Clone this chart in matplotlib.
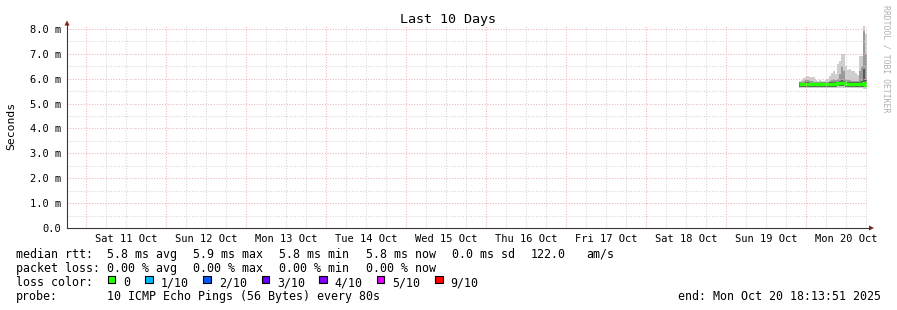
import matplotlib
matplotlib.use("Agg")
import numpy as np
import pandas as pd
import matplotlib.pyplot as plt
from matplotlib.patches import Polygon, Rectangle
from matplotlib.lines import Line2D

# ---------------- data ----------------
end_time = pd.Timestamp("2025-10-20 18:13:51")
start_time = end_time - pd.Timedelta(days=10)
data_start = pd.Timestamp("2025-10-19 21:50:00")
data_step = "36min"

rtt_max = [5.92, 5.95, 6.02, 6.05, 6.10, 6.08, 6.08, 6.05, 5.95, 5.92,
           5.95, 5.90, 5.92, 5.95, 6.00, 6.10, 6.25, 6.30, 6.20, 6.60,
           6.70, 7.00, 7.00, 6.50, 6.35, 6.40, 6.30, 6.30, 6.25, 6.15,
           6.90, 6.90, 8.10, 7.80]
rtt_p9 = [5.88, 5.88, 5.90, 5.95, 5.95, 5.90, 5.90, 5.88, 5.87, 5.87,
          5.87, 5.86, 5.87, 5.88, 5.88, 5.90, 5.95, 5.98, 5.95, 6.00,
          6.20, 6.50, 6.30, 6.00, 5.95, 5.95, 5.92, 5.92, 5.90, 5.90,
          6.30, 6.50, 7.90, 7.00]
rtt_p7 = [5.84, 5.84, 5.84, 5.85, 5.85, 5.84, 5.84, 5.84, 5.83, 5.83,
          5.83, 5.83, 5.83, 5.84, 5.84, 5.85, 5.86, 5.87, 5.87, 5.88,
          5.90, 5.93, 5.92, 5.88, 5.86, 5.86, 5.86, 5.85, 5.85, 5.85,
          5.88, 5.90, 6.40, 5.95]
rtt_p2 = [5.67, 5.67, 5.67, 5.67, 5.67, 5.67, 5.67, 5.67, 5.67, 5.67,
          5.67, 5.67, 5.67, 5.67, 5.67, 5.68, 5.68, 5.68, 5.68, 5.69,
          5.69, 5.69, 5.69, 5.68, 5.68, 5.68, 5.68, 5.68, 5.67, 5.67,
          5.67, 5.67, 5.65, 5.65]
rtt_min = [5.64, 5.64, 5.64, 5.64, 5.64, 5.64, 5.64, 5.64, 5.64, 5.64,
           5.64, 5.64, 5.64, 5.64, 5.64, 5.64, 5.64, 5.64, 5.64, 5.64,
           5.64, 5.64, 5.64, 5.64, 5.64, 5.64, 5.64, 5.64, 5.64, 5.64,
           5.63, 5.63, 5.60, 5.60]
rtt_median = [5.78, 5.78, 5.78, 5.78, 5.78, 5.78, 5.78, 5.77, 5.77, 5.77,
              5.77, 5.77, 5.77, 5.78, 5.78, 5.78, 5.79, 5.80, 5.80, 5.82,
              5.83, 5.84, 5.83, 5.80, 5.79, 5.79, 5.79, 5.78, 5.78, 5.78,
              5.79, 5.80, 5.82, 5.76]

y_ticks = [0, 1, 2, 3, 4, 5, 6, 7, 8]
y_tick_labels = ["0.0", "1.0 m", "2.0 m", "3.0 m", "4.0 m", "5.0 m",
                 "6.0 m", "7.0 m", "8.0 m"]

title = "Last 10 Days"
y_label = "Seconds"
median_row = [("median rtt:", 16), ("5.8 ms avg", 107), ("5.9 ms max", 193),
              ("5.8 ms min", 279), ("5.8 ms now", 366), ("0.0 ms sd", 451.5),
              ("122.0", 530.5), ("am/s", 586)]
loss_row = [("packet loss:", 16), ("0.00 % avg", 107), ("0.00 % max", 193),
            ("0.00 % min", 279), ("0.00 % now", 366)]
loss_labels = ["0", "1/10", "2/10", "3/10", "4/10", "5/10", "9/10"]
loss_colors = ["#26ff00", "#00b8ff", "#0059ff", "#5e00ff", "#7e00ff",
               "#dd00ff", "#ff0000"]
loss_box_x = [107.5, 145, 203.3, 261.5, 319.3, 376.7, 435]
probe_text = "10 ICMP Echo Pings (56 Bytes) every 80s"
end_text = "end: Mon Oct 20 18:13:51 2025"
watermark = "RRDTOOL / TOBI OETIKER"

# ---------------- figure ----------------
W, H = 897, 310
MONO = "DejaVu Sans Mono"
plt.rcParams["font.family"] = [MONO]

fig = plt.figure(figsize=(W / 100, H / 100), dpi=100)
fig.patch.set_facecolor("white")


def P(x, y):
    return (x / W, 1 - y / H)


ax = fig.add_axes([67 / W, (H - 228) / H, 800 / W, 202 / H])
ax.set_facecolor("white")
ax.set_xlim(start_time, end_time)
ax.set_ylim(0, 8.12)

times = pd.date_range(data_start, periods=len(rtt_max), freq=data_step)
edges = list(times) + [end_time]


def ext(a):
    return list(a) + [a[-1]]


ax.fill_between(edges, ext(rtt_min), ext(rtt_max), step="post",
                color="#cecece", lw=0, zorder=1)
ax.fill_between(edges, ext(rtt_p2), ext(rtt_p9), step="post",
                color="#9a9a9a", lw=0, zorder=1.1)
ax.fill_between(edges, ext(rtt_p2), ext(rtt_p7), step="post",
                color="#585858", lw=0, zorder=1.2)
ax.step(edges, ext(rtt_median), where="post", color="#26ff00", lw=2.5,
        zorder=2, solid_capstyle="butt")

# grid
grid_times = pd.date_range(start_time.ceil("6h"), end_time, freq="6h")
for t in grid_times:
    major = t.hour == 0
    ax.axvline(t, color="#eeb4b4" if major else "#d4d4d4", lw=0.75,
               ls=(0, (1, 1.6)), zorder=3)
for v in np.arange(0.5, 8.01, 0.5):
    major = abs(v - round(v)) < 1e-9
    ax.axhline(v, color="#eeb4b4" if major else "#d4d4d4", lw=0.75,
               ls=(0, (1, 1.6)), zorder=3)

for s in ax.spines.values():
    s.set_visible(False)

ax.set_yticks(y_ticks)
ax.set_yticklabels(y_tick_labels)
ax.tick_params(axis="y", length=0, pad=4.5, labelsize=7.5)

days = pd.date_range(start_time.normalize() + pd.Timedelta(days=1),
                     end_time.normalize(), freq="D")
noons = [d + pd.Timedelta(hours=12) for d in days]
ax.set_xticks(noons)
ax.set_xticklabels([d.strftime("%a %d %b") for d in days])
ax.tick_params(axis="x", length=0, pad=4.5, labelsize=7.5)

# axis lines & arrows
axis_col = "#3a3a3a"
arrow_col = "#8b1a1a"
fig.add_artist(Line2D([P(67, 0)[0]] * 2, [P(0, 228)[1], P(0, 25)[1]],
                      transform=fig.transFigure, color=axis_col, lw=0.8))
fig.add_artist(Line2D([P(67, 0)[0], P(870, 0)[0]], [P(0, 228)[1]] * 2,
                      transform=fig.transFigure, color=axis_col, lw=0.8))
fig.add_artist(Polygon([P(64.5, 25.5), P(69.5, 25.5), P(67, 20.5)],
                       closed=True, transform=fig.transFigure,
                       color=arrow_col, lw=0))
fig.add_artist(Polygon([P(869, 225.5), P(869, 230.5), P(874, 228)],
                       closed=True, transform=fig.transFigure,
                       color=arrow_col, lw=0))

# titles
fig.text(*P(448, 19.5), title, ha="center", va="center", fontsize=9.6,
         color="black")
fig.text(*P(11, 126), y_label, ha="center", va="center", rotation=90,
         fontsize=8.2, color="black")
fig.text(*P(886, 59), watermark, ha="center", va="center", rotation=270,
         fontsize=5.9, color="#b0b0b0")

# legend
FS = 8.4
base = [257.7, 272, 286, 300]
for txt, x in median_row:
    fig.text(*P(x, base[0]), txt, ha="left", va="baseline", fontsize=FS)
for txt, x in loss_row:
    fig.text(*P(x, base[1]), txt, ha="left", va="baseline", fontsize=FS)
fig.text(*P(16, base[2]), "loss color:", ha="left", va="baseline",
         fontsize=FS)
for lab, col, x in zip(loss_labels, loss_colors, loss_box_x):
    x0, y0 = P(x, 283)
    fig.add_artist(Rectangle((x0, y0), 7.5 / W, 7.5 / H,
                             transform=fig.transFigure, facecolor=col,
                             edgecolor="black", lw=0.8))
    fig.text(*P(x + 15.5, base[2]), lab, ha="left", va="baseline",
             fontsize=FS)
fig.text(*P(16, base[3]), "probe:", ha="left", va="baseline", fontsize=FS)
fig.text(*P(107, base[3]), probe_text, ha="left", va="baseline",
         fontsize=FS)
fig.text(*P(880.5, base[3]), end_text, ha="right", va="baseline",
         fontsize=FS)

fig.savefig("out.png", dpi=100, facecolor="white")
